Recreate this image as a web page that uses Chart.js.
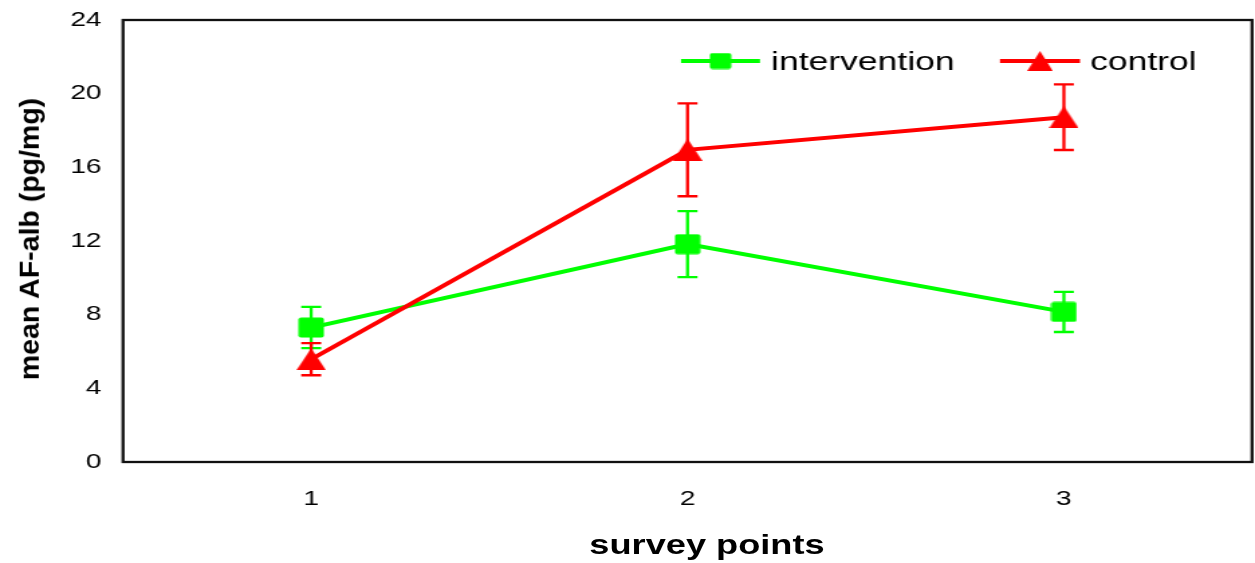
<!DOCTYPE html>
<html>
<head>
<meta charset="utf-8">
<title>mean AF-alb by survey point</title>
<script src="https://cdn.jsdelivr.net/npm/chart.js@4.4.1/dist/chart.umd.min.js"></script>
<style>
  body { margin: 0; background: #fff; }
  #wrap { position: relative; width: 1255px; height: 563px; overflow: hidden; }
  #chart { display: block; }
  .axis-title {
    position: absolute;
    font-family: 'Liberation Sans', Arial, sans-serif;
    font-weight: bold;
    color: #000;
    white-space: nowrap;
    line-height: 1;
  }
  #xTitle { left: 707px; top: 545px; font-size: 27px; transform: translate(-50%, -50%) scaleX(1.34); }
  #yTitle { left: 29px; top: 239px; font-size: 28.5px; transform: translate(-50%, -50%) rotate(-90deg); }
</style>
</head>
<body>
<div id="wrap">
  <!-- the original figure is stretched sideways, so the canvas is drawn narrow and widened by its inline style -->
  <canvas id="chart" width="936" height="563" style="width:1255px;height:563px"></canvas>
  <span id="xTitle" class="axis-title">survey points</span>
  <span id="yTitle" class="axis-title">mean AF-alb (pg/mg)</span>
</div>
<script>
/* =========================
   Data
   ========================= */

const surveyPoints = ['1', '2', '3'];
const intervention = [7.3, 11.83, 8.15];
const interventionErr = [1.12, 1.79, 1.09];
const control = [5.58, 16.95, 18.72];
const controlErr = [0.87, 2.52, 1.78];
const yTicks = [0, 4, 8, 12, 16, 20, 24];

const GREEN = '#00ff00';
const RED = '#ff0000';
const FONT = "'Liberation Sans', Arial, sans-serif";

// canvas is 936 wide but shown 1255 wide
const STRETCH = 1255 / 936;
const px = v => v / STRETCH;

/* =========================
   Marker images
   ========================= */

function makeRect(w, h, color) {
    const c = document.createElement('canvas');
    c.width = w;
    c.height = h;
    const g = c.getContext('2d');
    g.fillStyle = color;
    g.beginPath();
    g.roundRect(0.5, 0.5, w - 1, h - 1, 2);
    g.fill();
    return c;
}

function makeTriangle(w, h, color) {
    const c = document.createElement('canvas');
    c.width = w;
    c.height = h;
    const g = c.getContext('2d');
    g.fillStyle = color;
    g.beginPath();
    g.moveTo(w / 2, 0);
    g.lineTo(w, h);
    g.lineTo(0, h);
    g.closePath();
    g.fill();
    return c;
}

const squareMarker = makeRect(20, 21, GREEN);
const triangleMarker = makeTriangle(22, 22, RED);
const legendSquare = makeRect(17, 17, GREEN);
const legendTriangle = makeTriangle(19, 20, RED);

/* =========================
   Plugins
   ========================= */

// black frame round the plot area
const plotFrame = {
    id: 'plotFrame',
    beforeDatasetsDraw(chart) {
        const {ctx, chartArea: a} = chart;
        ctx.save();
        ctx.strokeStyle = '#111';
        ctx.lineWidth = 2.3;
        ctx.strokeRect(a.left, a.top, a.right - a.left, a.bottom - a.top);
        ctx.restore();
    }
};

// +/- error bars with caps
const errorBars = {
    id: 'errorBars',
    beforeDatasetsDraw(chart) {
        const {ctx, scales: {x, y}} = chart;
        const sets = [
            [intervention, interventionErr, GREEN],
            [control, controlErr, RED]
        ];
        ctx.save();
        ctx.lineWidth = 2.3;
        sets.forEach(([vals, errs, color]) => {
            ctx.strokeStyle = color;
            vals.forEach((v, i) => {
                const cx = x.getPixelForValue(i);
                const top = y.getPixelForValue(v + errs[i]);
                const bot = y.getPixelForValue(v - errs[i]);
                const cap = px(10);
                ctx.beginPath();
                ctx.moveTo(cx, top);
                ctx.lineTo(cx, bot);
                ctx.moveTo(cx - cap, top);
                ctx.lineTo(cx + cap, top);
                ctx.moveTo(cx - cap, bot);
                ctx.lineTo(cx + cap, bot);
                ctx.stroke();
            });
        });
        ctx.restore();
    }
};

// legend sits inside the plot, top right, with line + marker samples
const legendItems = [
    { label: 'intervention', color: GREEN, marker: legendSquare, from: 681, to: 760, textAt: 771 },
    { label: 'control', color: RED, marker: legendTriangle, from: 1000, to: 1080, textAt: 1090 }
];

const insideLegend = {
    id: 'insideLegend',
    afterDatasetsDraw(chart) {
        const ctx = chart.ctx;
        const lineY = 61;
        ctx.save();
        legendItems.forEach(item => {
            ctx.strokeStyle = item.color;
            ctx.lineWidth = 4;
            ctx.beginPath();
            ctx.moveTo(px(item.from), lineY);
            ctx.lineTo(px(item.to), lineY);
            ctx.stroke();
            const mx = px((item.from + item.to) / 2);
            ctx.drawImage(item.marker, mx - item.marker.width / 2, lineY - item.marker.height / 2);
            ctx.fillStyle = '#000';
            ctx.font = '26.5px ' + FONT;
            ctx.textBaseline = 'alphabetic';
            ctx.textAlign = 'left';
            ctx.fillText(item.label, px(item.textAt), 70);
        });
        ctx.restore();
    }
};

/* =========================
   Chart
   ========================= */

const ctx = document.getElementById('chart').getContext('2d');
const afChart = new Chart(ctx, {
    type: 'line',
    data: {
        labels: surveyPoints,
        datasets: [
            {
                label: 'intervention',
                data: intervention,
                borderColor: GREEN,
                backgroundColor: GREEN,
                borderWidth: 4,
                pointStyle: squareMarker,
                tension: 0,
                order: 1
            },
            {
                label: 'control',
                data: control,
                borderColor: RED,
                backgroundColor: RED,
                borderWidth: 4,
                pointStyle: triangleMarker,
                tension: 0,
                order: 0
            }
        ]
    },
    options: {
        responsive: false,
        devicePixelRatio: 1,
        animation: false,
        layout: {
            autoPadding: false,
            padding: { top: 20, right: 2.2, bottom: 0, left: 0 }
        },
        plugins: {
            legend: { display: false },
            tooltip: { enabled: false }
        },
        scales: {
            x: {
                type: 'category',
                offset: true,
                grid: { display: false, drawTicks: false },
                border: { display: false },
                ticks: {
                    color: '#000',
                    padding: 25,
                    font: { family: FONT, size: 21 }
                },
                afterFit: s => { s.height = 101; }
            },
            y: {
                min: yTicks[0],
                max: yTicks[yTicks.length - 1],
                grid: { display: false, drawTicks: false },
                border: { display: false },
                ticks: {
                    stepSize: yTicks[1] - yTicks[0],
                    color: '#000',
                    padding: 16,
                    font: { family: FONT, size: 21 }
                },
                afterFit: s => {
                    s.width = px(123);
                    s.paddingTop = 0;
                    s.paddingBottom = 0;
                }
            }
        }
    },
    plugins: [plotFrame, errorBars, insideLegend]
});
</script>
</body>
</html>
